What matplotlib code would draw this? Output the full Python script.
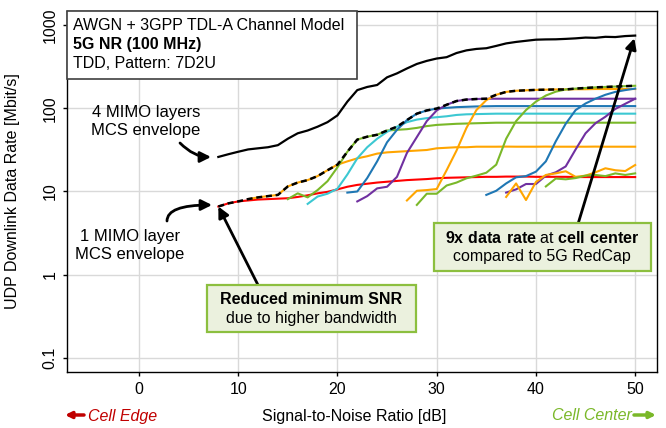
import numpy as np
import pandas as pd
import matplotlib
matplotlib.use("Agg")
import matplotlib.pyplot as plt
from matplotlib.patches import Rectangle, FancyArrowPatch

plt.rcParams['font.family'] = ['Liberation Sans', 'DejaVu Sans']
plt.rcParams['mathtext.fontset'] = 'custom'
plt.rcParams['mathtext.rm'] = 'Liberation Sans'
plt.rcParams['mathtext.bf'] = 'Liberation Sans:bold'

W, H = 666, 428

# 4 MIMO layers MCS envelope
snr_4l = np.arange(8, 51)
rate_4l = [26, 28, 30, 32, 33, 34, 36, 43, 50, 54, 60, 68, 82, 120, 165, 180, 190,
           235, 262, 300, 340, 370, 395, 410, 460, 495, 515, 525, 560, 600, 625, 645,
           665, 670, 672, 680, 690, 705, 700, 720, 715, 735, 745]

# 1 MIMO layer, one curve per MCS: (first SNR, rates from there up to 50 dB)
red = [6.6, 7.2, 7.6, 7.8, 8.0, 8.1, 8.2, 8.3, 8.6, 9.0, 9.5, 9.9, 10.6, 11.4, 12.0,
       12.4, 12.8, 13.1, 13.4, 13.7, 13.9, 14.1, 14.4, 14.6, 14.7, 14.8, 14.9, 15.0,
       15.0, 15.1, 15.1, 15.1, 15.0, 15.0, 15.0, 15.0, 14.9, 14.9, 14.9, 14.9, 14.9,
       14.9, 14.9]
orange_a = [8.1, 8.5, 8.8, 9.1, 11.5, 12.8, 13.7, 15.3, 18.0, 21.0, 23.0, 25.0, 26.5,
            28.5, 29.5, 30.0, 30.5, 31.0, 31.5, 33.0, 33.5, 34.0, 34.0, 34.5, 34.5,
            34.5, 34.6, 34.5, 34.5, 34.5, 34.6, 34.5, 34.5, 34.5, 34.5, 34.6, 34.5,
            34.5, 34.5, 34.5]
green_a = [8.1, 9.5, 8.5, 10.4, 13.3, 19.5, 30.0, 42.0, 45.5, 48.0, 54.0, 55.0, 56.0,
           58.0, 61.0, 63.0, 64.0, 65.0, 65.5, 66.0, 66.5, 67.0, 67.0, 67.0, 67.0,
           67.0, 67.0, 67.0, 67.0, 67.0, 67.0, 67.0, 67.0, 67.0, 67.0, 67.0]
cyan = [7.1, 8.7, 9.4, 10.8, 16.0, 25.0, 34.0, 43.0, 52.0, 60.0, 68.0, 73.0, 76.0,
        78.0, 80.0, 83.0, 84.5, 85.0, 85.5, 86.0, 86.0, 86.0, 86.0, 86.0, 86.0, 86.0,
        86.0, 86.0, 86.0, 86.0, 86.0, 86.0, 86.0, 86.0]
blue_a = [9.7, 10.0, 14.5, 23.0, 39.0, 55.0, 72.0, 86.0, 94.0, 99.0, 101.0, 103.0,
          104.0, 105.0, 105.5, 106.0, 106.0, 106.0, 106.0, 106.0, 106.0, 106.0, 106.0,
          106.0, 106.0, 106.0, 106.0, 106.0, 106.0, 106.0]
purple_a = [7.6, 8.8, 10.9, 11.4, 15.0, 29.0, 45.0, 70.0, 94.0, 110.0, 122.0, 127.0,
            129.0, 130.0, 130.0, 130.0, 130.0, 130.0, 130.0, 130.0, 130.0, 130.0, 130.0,
            130.0, 130.0, 130.0, 130.0, 130.0, 130.0]
orange_b = [7.8, 10.2, 10.4, 10.7, 18.0, 31.0, 58.0, 95.0, 125.0, 145.0, 157.0, 162.0,
            164.0, 166.0, 167.0, 168.0, 168.0, 169.0, 169.0, 170.0, 170.0, 170.0, 170.0,
            170.0]
green_b = [6.9, 9.4, 9.4, 11.8, 12.8, 14.4, 15.5, 16.8, 21.0, 43.0, 70.0, 95.0, 120.0,
           142.0, 158.0, 168.0, 172.0, 175.0, 178.0, 180.0, 182.0, 184.0, 186.0]
blue_b = [9.1, 10.2, 12.5, 14.8, 15.3, 17.3, 23.0, 40.0, 65.0, 95.0, 114.0, 130.0,
          145.0, 157.0, 165.0, 172.0]
purple_b = [9.7, 10.6, 12.3, 12.3, 15.5, 17.0, 20.0, 32.0, 50.0, 66.0, 79.0, 98.0,
            113.0, 130.0]
orange_c = [8.6, 12.5, 7.9, 13.0, 15.8, 16.5, 17.5, 15.0, 15.5, 17.0, 19.0, 18.0, 17.6,
            20.8]
green_c = [11.5, 14.3, 14.0, 14.5, 15.5, 15.8, 15.3, 16.5, 15.8, 16.5]

RED = '#FF0000'
ORANGE = '#FFA500'
GREEN = '#7AB829'
CYAN = '#3CC8D2'
BLUE = '#1F77B4'
PURPLE = '#7030A0'

curves = [
    (8, red, RED), (11, orange_a, ORANGE), (15, green_a, GREEN), (17, cyan, CYAN),
    (21, blue_a, BLUE), (22, purple_a, PURPLE), (27, orange_b, ORANGE),
    (28, green_b, GREEN), (35, blue_b, BLUE), (37, purple_b, PURPLE),
    (37, orange_c, ORANGE), (41, green_c, GREEN),
]

fig = plt.figure(figsize=(W / 100, H / 100), dpi=100)
ax = fig.add_axes([67 / W, 1 - 372 / H, 590 / W, 361 / H])

table = {}
for i, (start, vals, col) in enumerate(curves):
    snr = np.arange(start, start + len(vals))
    ax.plot(snr, vals, color=col, lw=1.5, zorder=2)
    table[i] = pd.Series(vals, index=snr)
envelope = pd.DataFrame(table).max(axis=1)

ax.plot(envelope.index, envelope.values, color='black', lw=1.8, dashes=(2.4, 1.5), zorder=4)
ax.plot(snr_4l, rate_4l, color='black', lw=1.6, zorder=4)

ax.set_yscale('log')
ax.set_xlim(-7.25, 52.2)
ax.set_ylim(0.068, 1470)
ax.set_xticks([0, 10, 20, 30, 40, 50])
ax.set_yticks([0.1, 1, 10, 100, 1000])
ax.set_yticklabels(['0.1', '1', '10', '100', '1000'], rotation=90, va='center')
ax.minorticks_off()
ax.tick_params(labelsize=11.5, length=3, width=1, direction='out', pad=4)
ax.grid(True, color='#D9D9D9', lw=1, zorder=0)
ax.set_axisbelow(True)
for s in ax.spines.values():
    s.set_color('black')
    s.set_linewidth(1)

ax.set_ylabel('UDP Downlink Data Rate [Mbit/s]', fontsize=11.5)
ax.yaxis.set_label_coords((20 - 67) / 590, 0.5)


def fxy(px, py):
    return (px / W, 1 - py / H)


# info box
ax.add_patch(Rectangle(fxy(67, 79), 290 / W, 68 / H, transform=fig.transFigure,
                       fc='white', ec='#404040', lw=1.2, zorder=6, clip_on=False))
fig.text(*fxy(73, 25), 'AWGN + 3GPP TDL-A Channel Model', fontsize=11.5, va='center', zorder=7)
fig.text(*fxy(73, 45), '5G NR (100 MHz)', fontsize=11.5, fontweight='bold', va='center', zorder=7)
fig.text(*fxy(73, 64), 'TDD, Pattern: 7D2U', fontsize=11.5, va='center', zorder=7)

# envelope labels with curved arrows
fig.text(*fxy(146, 121), '4 MIMO layers\nMCS envelope', fontsize=12, ha='center',
         va='center', linespacing=1.25)
fig.text(*fxy(130, 246), '1 MIMO layer\nMCS envelope', fontsize=12, ha='center',
         va='center', linespacing=1.25)
arrow_kw = dict(arrowstyle='-|>', mutation_scale=16, lw=2, color='black',
                transform=fig.transFigure, shrinkA=0, shrinkB=0)
fig.add_artist(FancyArrowPatch(fxy(180, 143), fxy(211, 157),
                               connectionstyle='angle3,angleA=-45,angleB=0', **arrow_kw))
fig.add_artist(FancyArrowPatch(fxy(167, 221), fxy(212, 205),
                               connectionstyle='angle3,angleA=90,angleB=0', **arrow_kw))

# green callout boxes
BOX_FC = '#EBF1DE'
BOX_EC = '#8CBF3F'
ax.add_patch(Rectangle(fxy(207, 332), 209 / W, 47 / H, transform=fig.transFigure,
                       fc=BOX_FC, ec=BOX_EC, lw=1.6, zorder=6, clip_on=False))
fig.text(*fxy(311, 299), 'Reduced minimum SNR', fontsize=11.5, fontweight='bold',
         ha='center', va='center', zorder=7)
fig.text(*fxy(311, 318), 'due to higher bandwidth', fontsize=11.5, ha='center',
         va='center', zorder=7)

ax.add_patch(Rectangle(fxy(434, 271), 217 / W, 48 / H, transform=fig.transFigure,
                       fc=BOX_FC, ec=BOX_EC, lw=1.6, zorder=6, clip_on=False))
fig.text(*fxy(542, 238), r'$\mathbf{9x\ data\ rate}$ at $\mathbf{cell\ center}$',
         fontsize=11.5, ha='center', va='center', zorder=7)
fig.text(*fxy(542, 257), 'compared to 5G RedCap', fontsize=11.5, ha='center',
         va='center', zorder=7)

ax.annotate('', xy=(snr_4l[0], red[0]), xycoords='data',
            xytext=fxy(258, 285), textcoords='figure fraction',
            arrowprops=dict(arrowstyle='-|>', mutation_scale=16, lw=2, color='black',
                            shrinkA=0, shrinkB=0), zorder=5)
ax.annotate('', xy=(snr_4l[-1], rate_4l[-1]), xycoords='data',
            xytext=fxy(578, 224), textcoords='figure fraction',
            arrowprops=dict(arrowstyle='-|>', mutation_scale=16, lw=2, color='black',
                            shrinkA=0, shrinkB=2), zorder=5)

# x axis labels
fig.text(*fxy(354, 416), 'Signal-to-Noise Ratio [dB]', fontsize=11.5, ha='center', va='center')
fig.text(*fxy(88, 416), 'Cell Edge', fontsize=11.5, style='italic', color='#C00000',
         ha='left', va='center')
fig.text(*fxy(632, 416), 'Cell Center', fontsize=11.5, style='italic', color=GREEN,
         ha='right', va='center')
fig.add_artist(FancyArrowPatch(fxy(84, 415), fxy(65, 415), arrowstyle='-|>',
                               mutation_scale=9, lw=2.5, color='#C00000',
                               transform=fig.transFigure, shrinkA=0, shrinkB=0))
fig.add_artist(FancyArrowPatch(fxy(634, 415), fxy(656, 415), arrowstyle='-|>',
                               mutation_scale=9, lw=2.5, color=GREEN,
                               transform=fig.transFigure, shrinkA=0, shrinkB=0))

fig.savefig('out.png', dpi=100)
